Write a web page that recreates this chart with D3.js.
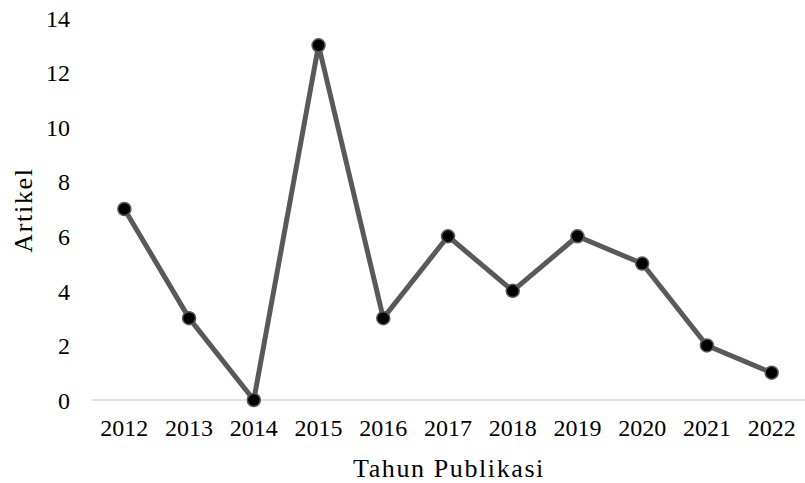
<!DOCTYPE html>
<html>
<head>
<meta charset="utf-8">
<script src="https://cdn.jsdelivr.net/npm/d3@7"></script>
<style>
  html, body { margin: 0; padding: 0; background: #fff; }
  svg { display: block; }
  text { font-family: "Liberation Serif", "DejaVu Serif", serif; fill: #000; }
</style>
</head>
<body>
<svg id="chart" width="805" height="483"></svg>
<script>
// Articles published per year
const years = ["2012", "2013", "2014", "2015", "2016", "2017", "2018", "2019", "2020", "2021", "2022"];
const articles = [7, 3, 0, 13, 3, 6, 4, 6, 5, 2, 1];
const yTicks = [0, 2, 4, 6, 8, 10, 12, 14];

const svg = d3.select("#chart");
const plotLeft = 92, plotRight = 804, plotTop = 18, plotBottom = 400;

const x = d3.scaleBand().domain(years).range([plotLeft, plotRight]);
const y = d3.scaleLinear().domain([0, 14]).range([plotBottom, plotTop]);

// Baseline
svg.append("line")
  .attr("x1", plotLeft).attr("x2", plotRight + 1)
  .attr("y1", y(0)).attr("y2", y(0))
  .attr("stroke", "#d9d9d9").attr("stroke-width", 1.5);

// Y axis labels
const yAxis = d3.axisLeft(y).tickValues(yTicks).tickSize(0).tickPadding(0);
svg.append("g")
  .attr("transform", `translate(${plotLeft - 22},0)`)
  .call(yAxis)
  .call(g => g.select(".domain").remove())
  .selectAll("text")
  .attr("font-family", "Liberation Serif, serif")
  .attr("font-size", 24)
  .attr("dy", "0.34em")
  .attr("fill", "#000");

// X axis labels
const xAxis = d3.axisBottom(x).tickSize(0).tickPadding(0);
svg.append("g")
  .attr("transform", `translate(0,${plotBottom})`)
  .call(xAxis)
  .call(g => g.select(".domain").remove())
  .selectAll("text")
  .attr("font-family", "Liberation Serif, serif")
  .attr("font-size", 24)
  .attr("dy", "1.5em")
  .attr("fill", "#000");

// Axis titles
svg.append("text")
  .attr("x", 449)
  .attr("y", 477)
  .attr("text-anchor", "middle")
  .attr("font-size", 26)
  .attr("letter-spacing", "1.6px")
  .text("Tahun Publikasi");

svg.append("text")
  .attr("transform", `translate(32,210) rotate(-90)`)
  .attr("text-anchor", "middle")
  .attr("font-size", 26)
  .attr("letter-spacing", "1.7px")
  .text("Artikel");

// Line
const cx = d => x(d.year) + x.bandwidth() / 2;
const data = years.map((yr, i) => ({ year: yr, value: articles[i] }));

svg.append("path")
  .datum(data)
  .attr("fill", "none")
  .attr("stroke", "#595959")
  .attr("stroke-width", 5)
  .attr("stroke-linejoin", "round")
  .attr("d", d3.line().x(cx).y(d => y(d.value)));

// Markers
svg.append("g").selectAll("circle")
  .data(data)
  .join("circle")
  .attr("cx", cx)
  .attr("cy", d => y(d.value))
  .attr("r", 6.5)
  .attr("fill", "#000")
  .attr("stroke", "#595959")
  .attr("stroke-width", 1.5);
</script>
</body>
</html>
